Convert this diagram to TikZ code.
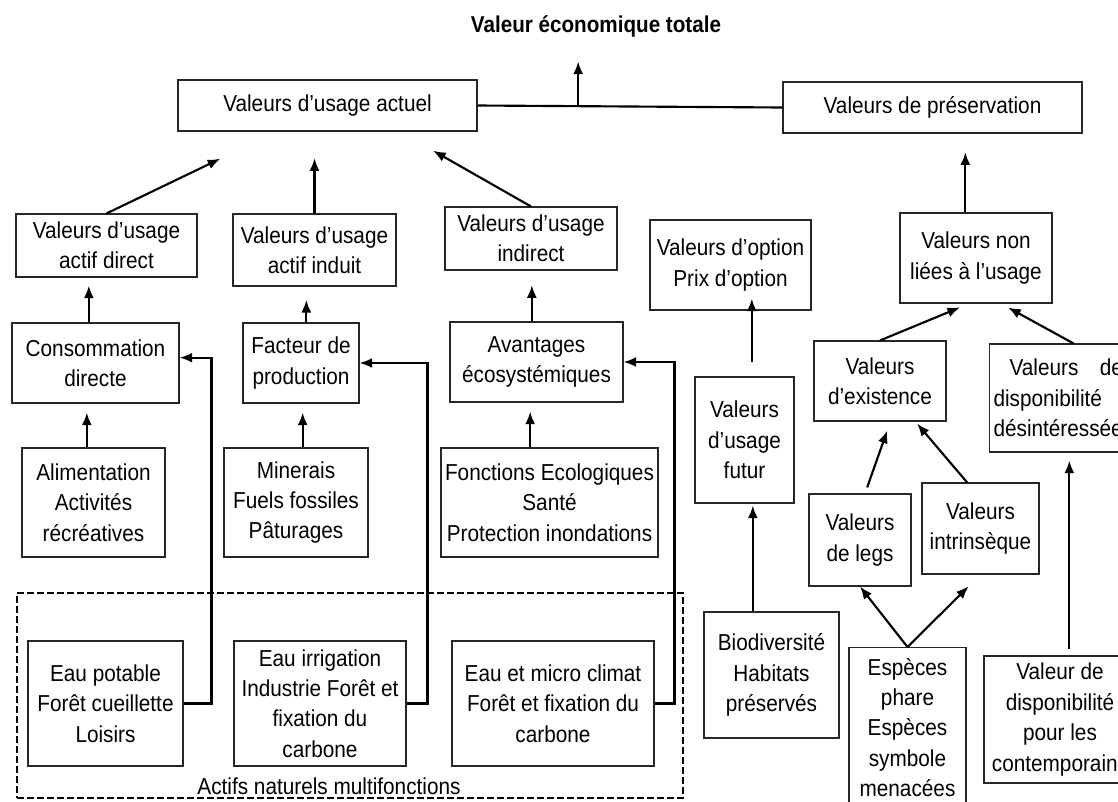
\documentclass[tikz,border=0pt]{standalone}
\usepackage{fontspec}
\setmainfont{Liberation Sans}[FakeStretch=0.9]
\usetikzlibrary{arrows.meta}

\begin{document}
\begin{tikzpicture}
[x=0.75pt,y=-0.75pt,
 every node/.style={font=\fontsize{17.3}{22.8}\selectfont},
 box/.style={draw=black!85,line width=0.8pt,align=center,inner sep=2pt},
 groupbox/.style={draw=black,line width=1pt,dash pattern=on 5pt off 2.5pt},
 arr/.style={-{Latex[length=9.5pt,width=7.5pt]},line width=1.6pt},
 link/.style={line width=1.6pt}]
\useasboundingbox (0,0) rectangle (1118,801);
\clip (0,0) rectangle (1118,801);

\node[anchor=base,font=\fontsize{17.2}{22}\selectfont\bfseries] (vet) at (596,32) {Valeur économique totale};
\node[box,minimum width=224.25pt,minimum height=38.25pt] (actuel) at (327.5,105.5) {Valeurs d’usage actuel};
\node[box,minimum width=224.25pt,minimum height=38.25pt] (preserv) at (932.5,107.5) {Valeurs de préservation};

\node[box,minimum width=135.75pt,minimum height=47.25pt] (direct) at (106.5,245.5) {Valeurs d’usage\\actif direct};
\node[box,minimum width=122.25pt,minimum height=54pt] (induit) at (314.5,250) {Valeurs d’usage\\actif induit};
\node[box,minimum width=129pt,minimum height=47.25pt] (indirect) at (531,238.5) {Valeurs d’usage\\indirect};
\node[box,minimum width=125.25pt,minimum height=60pt] (conso) at (95.5,363) {Consommation\\directe};
\node[box,minimum width=87pt,minimum height=60pt] (facteur) at (301,363) {Facteur de\\production};
\node[box,minimum width=129.75pt,minimum height=60pt] (avant) at (536.5,362) {Avantages\\écosystémiques};
\node[box,minimum width=107.25pt,minimum height=81.75pt] (alim) at (93.5,502.5) {Alimentation\\Activités\\récréatives};
\node[box,minimum width=108pt,minimum height=81.75pt] (miner) at (296,502.5) {Minerais\\Fuels fossiles\\Pâturages};
\node[box,minimum width=162.75pt,minimum height=81.75pt] (fonct) at (549.5,502.5) {Fonctions Ecologiques\\Santé\\Protection inondations};

% actifs naturels
\node[groupbox,minimum width=499.5pt,minimum height=153.75pt] (actifs) at (350,695.5) {};
\node[anchor=base] (actifslbl) at (329,794) {Actifs naturels multifonctions};
\node[box,minimum width=116.25pt,minimum height=93.75pt] (eau1) at (105.5,703.5) {Eau potable\\Forêt cueillette\\Loisirs};
\node[box,minimum width=129pt,minimum height=93.75pt] (eau2) at (320,703.5) {Eau irrigation\\Industrie Forêt et\\fixation du\\carbone};
\node[box,minimum width=151.5pt,minimum height=93.75pt] (eau3) at (553,703.5) {Eau et micro climat\\Forêt et fixation du\\carbone};

\node[box,minimum width=120.75pt,minimum height=67.5pt] (option) at (730.5,265) {Valeurs d’option\\Prix d’option};
\node[box,minimum width=74.25pt,minimum height=94.5pt] (futur) at (744.5,440) {Valeurs\\d’usage\\futur};
\node[box,minimum width=101.25pt,minimum height=94.5pt] (biodiv) at (771.5,675) {Biodiversité\\Habitats\\préservés};
\node[box,minimum width=114pt,minimum height=67.5pt] (nonlie) at (976,258) {Valeurs non\\liées à l’usage};
\node[box,minimum width=99pt,minimum height=60pt] (exist) at (880,381) {Valeurs\\d’existence};
\node[box,anchor=west,text width=97pt,align=left,inner xsep=3pt,minimum height=81pt] (desint) at (989,398) {\hspace*{12pt}Valeurs\hspace{\fill}de\\disponibilité\\désintéressée};
\node[box,minimum width=76.5pt,minimum height=69pt] (legs) at (860,540) {Valeurs\\de legs};
\node[box,minimum width=87.75pt,minimum height=68.25pt] (intrin) at (980.5,528.5) {Valeurs\\intrinsèque};
\node[box,anchor=north,minimum width=87.75pt,inner ysep=8pt] (especes) at (907.5,647) {Espèces\\phare\\Espèces\\symbole\\menacées};
\node[box,minimum width=114pt,minimum height=95.25pt] (contemp) at (1060,719.5) {Valeur de\\disponibilité\\pour les\\contemporains};

\draw[link] (actuel.east) -- coordinate[pos=0.33] (vetfoot) (preserv.west);
\draw[arr,shorten >=15pt] (vetfoot) -- (vetfoot |- vet.south);
\draw[arr,shorten >=47pt] (direct.north) -- ([xshift=-38pt]actuel.south);
\draw[arr,shorten >=20pt] (induit.north) -- (induit.north |- actuel.south);
\draw[arr,shorten >=29pt] (indirect.north) -- ([xshift=54pt]actuel.south);
\draw[arr,shorten >=6pt] ([xshift=-5pt]conso.north) -- ([xshift=-5pt]conso.north |- direct.south);
\draw[arr,shorten >=10pt] ([xshift=4pt]facteur.north) -- ([xshift=4pt]facteur.north |- induit.south);
\draw[arr,shorten >=11pt] ([xshift=-3.5pt]avant.north) -- ([xshift=-3.5pt]avant.north |- indirect.south);
\draw[arr,shorten >=6.75pt] ([xshift=-5pt]alim.north) -- ([xshift=-5pt]alim.north |- conso.south);
\draw[arr,shorten >=6.75pt] ([xshift=5pt]miner.north) -- ([xshift=5pt]miner.north |- facteur.south);
\draw[arr,shorten >=6.75pt] ([xshift=-14.5pt]fonct.north) -- ([xshift=-14.5pt]fonct.north |- avant.south);
\draw[arr] (eau1.east) -- ++(28,0) |- ([yshift=4pt]conso.east);
\draw[arr] (eau2.east) -- ++(21,0) |- (facteur.east);
\draw[arr] (eau3.east) -- ++(20,0) |- (avant.east);

\draw[arr,shorten >=14pt] ([xshift=-8pt]nonlie.north) -- ([xshift=-8pt]nonlie.north |- preserv.south);
\draw[arr,shorten <=10.5pt,shorten >=-9pt] ([xshift=5.5pt]futur.north) -- ([xshift=5.5pt]futur.north |- option.south);
\draw[arr,shorten >=1.5pt] ([xshift=-14pt]biodiv.north) -- ([xshift=-14pt]biodiv.north |- futur.south);
\draw[arr,shorten >=7.5pt] (exist.north) -- ([xshift=-5pt]nonlie.south);
\draw[arr,shorten >=6.2pt] ([xshift=11.5pt]desint.north) -- ([xshift=18.6pt]nonlie.south);
\draw[arr,shorten <=4.8pt,shorten >=7.2pt] ([xshift=3.75pt]legs.north) -- ([xshift=7.8pt]exist.south);
\draw[arr,shorten >=2pt] ([xshift=-10pt]intrin.north) -- ([xshift=26.5pt]exist.south);
\draw[arr] (especes.north) -- (legs.south);
\draw[arr,shorten >=12.5pt] (especes.north) -- (intrin.south);
\draw[arr,shorten <=5pt,shorten >=6pt] ([xshift=7pt]contemp.north) -- ([xshift=7pt]contemp.north |- desint.south);
\end{tikzpicture}
\end{document}
